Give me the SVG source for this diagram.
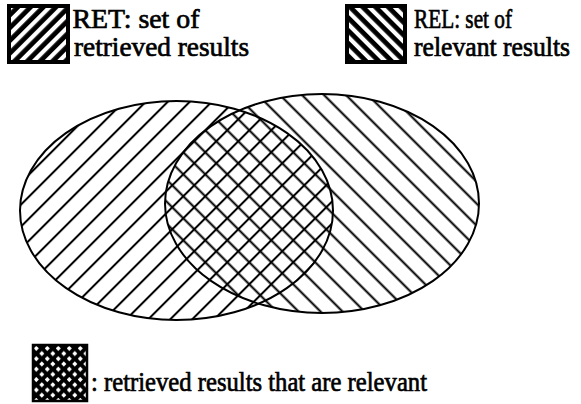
<svg xmlns="http://www.w3.org/2000/svg" width="581" height="404" viewBox="0 0 581 404">
  <style>
    .lbl { font-family: "Liberation Serif", "Times New Roman", serif; font-size: 28px; fill: #000; stroke: #000; stroke-width: 0.7px; }
    .outline { fill: none; stroke: #000; stroke-width: 2; }
  </style>
  <defs>
    <pattern id="hatchL" patternUnits="userSpaceOnUse" width="15.556" height="20" patternTransform="rotate(45)">
      <rect x="2.95" y="0" width="2" height="20" fill="#000"/>
    </pattern>
    <pattern id="hatchR" patternUnits="userSpaceOnUse" width="15.556" height="20" patternTransform="rotate(-45)">
      <rect x="5.35" y="0" width="2" height="20" fill="#000"/>
    </pattern>
    <pattern id="legL" patternUnits="userSpaceOnUse" width="9" height="20" patternTransform="rotate(45)">
      <rect x="0" y="0" width="9" height="20" fill="#000"/>
      <rect x="2" y="0" width="4.2" height="20" fill="#fff"/>
    </pattern>
    <pattern id="legR" patternUnits="userSpaceOnUse" width="9" height="20" patternTransform="rotate(-45)">
      <rect x="0" y="0" width="9" height="20" fill="#000"/>
      <rect x="2" y="0" width="4.2" height="20" fill="#fff"/>
    </pattern>
    <pattern id="legX" patternUnits="userSpaceOnUse" x="34" y="346" width="11" height="10.4">
      <rect x="0" y="0" width="11" height="10.4" fill="#000"/>
      <rect x="0.5" y="0.5" width="3.6" height="3.6" fill="#fff" transform="rotate(45 2.3 2.3)"/>
      <rect x="6" y="5.7" width="3.6" height="3.6" fill="#fff" transform="rotate(45 7.8 7.5)"/>
    </pattern>
  </defs>

  <g id="ret-set">
    <ellipse cx="176.5" cy="210.5" rx="156.5" ry="109.5" fill="url(#hatchL)"/>
  </g>
  <g id="rel-set">
    <ellipse cx="322" cy="203.5" rx="157" ry="109.5" fill="url(#hatchR)"/>
  </g>
  <g id="outlines">
    <ellipse class="outline" cx="176.5" cy="210.5" rx="156.5" ry="109.5"/>
    <ellipse class="outline" cx="322" cy="203.5" rx="157" ry="109.5"/>
  </g>

  <g id="legend-ret">
    <rect x="9" y="6" width="59" height="56" fill="url(#legL)" stroke="#000" stroke-width="4"/>
    <text class="lbl" x="72.5" y="28" textLength="127" lengthAdjust="spacingAndGlyphs">RET: set of</text>
    <text class="lbl" x="74" y="56" textLength="175" lengthAdjust="spacingAndGlyphs">retrieved results</text>
  </g>
  <g id="legend-rel">
    <rect x="347" y="6" width="58" height="56" fill="url(#legR)" stroke="#000" stroke-width="4"/>
    <text class="lbl" x="414" y="28" textLength="98" lengthAdjust="spacingAndGlyphs">REL: set of</text>
    <text class="lbl" x="414" y="56" font-size="26.5" style="font-size:26.5px" textLength="156" lengthAdjust="spacingAndGlyphs">relevant results</text>
  </g>
  <g id="legend-both">
    <rect x="33" y="345" width="54" height="56" fill="url(#legX)" stroke="#000" stroke-width="2.5"/>
    <text class="lbl" x="91" y="391" textLength="336" lengthAdjust="spacingAndGlyphs">: retrieved results that are relevant</text>
  </g>
</svg>
